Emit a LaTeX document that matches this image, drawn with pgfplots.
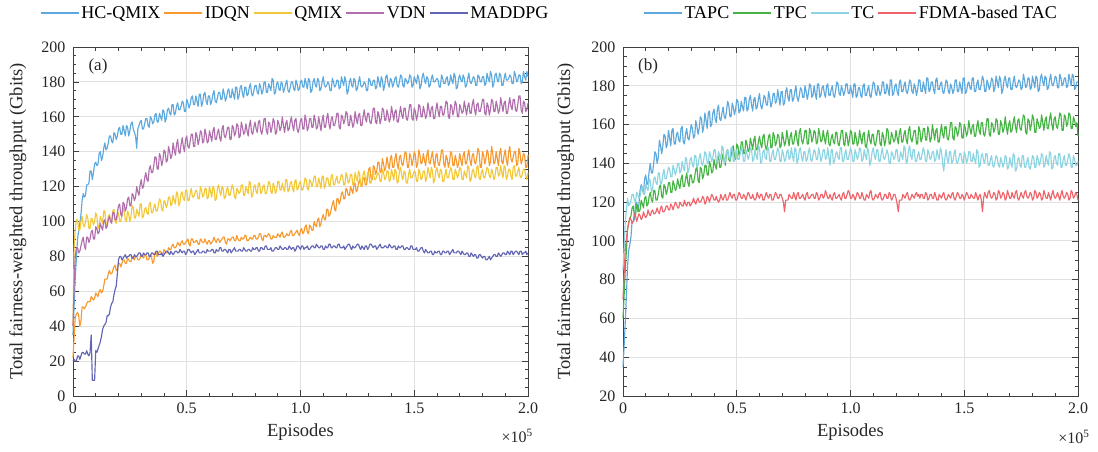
\documentclass[border=0pt]{standalone}
\usepackage{fontspec}
\setmainfont{Liberation Serif}
\usepackage{pgfplots}
\pgfplotsset{compat=1.18}
\usepackage{pgfplotstable}
\definecolor{cHC}{HTML}{5DA8DC}
\definecolor{cID}{HTML}{F7992F}
\definecolor{cQM}{HTML}{F2C838}
\definecolor{cVD}{HTML}{B06EAD}
\definecolor{cMA}{HTML}{6264B4}
\definecolor{cTP}{HTML}{45B445}
\definecolor{cTC}{HTML}{8CD4E2}
\definecolor{cFD}{HTML}{EE646A}

\pgfplotstableread{
x hc idqn qmix vdn mad
0.000 35 22 40 40 20
0.005 52 34 85 65 21
0.010 68 45 96 80 20
0.015 79 47 101 85 20
0.020 90 48 101 85 23
0.025 95 46 95 82 23
0.030 99 40 95 83 21
0.035 104 43 100 86 23
0.040 112 51 103 89 25
0.045 116 51 98 91 25
0.050 114 50 97 86 24
0.055 115 51 100 84 24
0.060 121 53 104 91 26
0.065 121 54 102 91 24
0.070 122 54 96 88 23
0.075 129 54 96 90 25
0.080 129 57 102 94 35
0.085 124 56 101 95 9
0.090 128 55 98 90 9
0.095 133 56 100 90 9
0.100 134 59 105 97 26
0.105 132 58 103 96 25
0.110 133 57 96 93 27
0.115 139 60 97 94 29
0.120 140 61 103 99 31
0.125 135 59 101 97 34
0.130 137 60 99 95 38
0.135 142 63 106 100 40
0.140 145 67 106 101 41
0.145 141 67 98 96 42
0.150 142 67 98 97 46
0.155 145 70 103 101 46
0.160 149 72 104 103 47
0.165 149 70 101 100 51
0.170 146 70 100 99 53
0.175 145 72 106 105 54
0.180 151 74 107 105 58
0.185 150 75 100 101 61
0.190 147 72 99 101 63
0.195 149 72 103 105 70
0.200 153 76 105 109 78
0.205 154 76 100 110 80
0.210 150 74 100 104 80
0.215 150 76 104 103 78
0.220 155 78 108 111 79
0.225 152 78 106 110 80
0.230 149 76 101 106 81
0.235 155 76 100 108 79
0.240 154 79 106 113 80
0.245 149 78 104 114 80
0.250 152 77 100 109 81
0.255 156 77 103 109 81
0.260 157 80 109 116 79
0.265 153 79 108 115 79
0.270 151 78 102 112 81
0.275 149 80 102 114 80
0.280 142 80 107 120 80
0.285 153 78 105 117 81
0.290 155 78 103 115 82
0.295 157 79 110 121 82
0.300 158 81 110 124 80
0.305 153 80 102 119 80
0.310 153 79 103 120 82
0.315 156 81 107 125 81
0.320 159 81 108 128 81
0.325 159 78 105 124 82
0.330 155 78 104 123 82
0.335 154 79 110 130 80
0.340 160 81 111 132 80
0.345 159 80 105 128 82
0.350 156 76 105 128 82
0.355 157 77 108 132 81
0.360 161 82 110 137 81
0.365 162 82 106 137 83
0.370 157 80 106 130 83
0.375 157 81 109 130 81
0.380 162 83 113 139 81
0.385 160 83 112 137 81
0.390 158 81 107 132 82
0.395 164 81 106 135 80
0.400 163 84 112 141 81
0.405 157 83 111 140 82
0.410 159 82 108 134 83
0.415 164 82 110 135 83
0.420 165 85 114 143 82
0.425 162 84 114 140 81
0.430 161 84 109 136 83
0.435 167 86 110 138 82
0.440 167 87 115 145 81
0.445 161 85 112 141 82
0.450 162 85 110 138 83
0.455 166 86 117 144 83
0.460 168 88 116 147 82
0.465 164 87 109 140 82
0.470 164 86 111 139 84
0.475 166 88 116 144 83
0.480 169 89 117 148 82
0.485 168 87 113 143 83
0.490 163 87 112 140 83
0.495 163 88 118 147 81
0.500 170 89 118 149 82
0.505 168 90 112 143 84
0.510 165 87 112 142 84
0.515 167 86 116 146 83
0.520 171 90 119 150 82
0.525 172 90 114 150 83
0.530 167 88 114 143 83
0.535 167 88 116 143 81
0.540 172 89 118 151 82
0.545 169 89 117 149 83
0.550 166 87 113 144 84
0.555 173 87 113 147 82
0.560 173 90 120 152 82
0.565 166 89 118 151 82
0.570 168 88 114 145 83
0.575 173 88 115 146 83
0.580 174 90 119 153 82
0.585 169 88 119 150 82
0.590 167 87 113 145 84
0.595 172 89 114 146 83
0.600 172 89 120 152 83
0.605 167 87 117 149 83
0.610 169 88 114 146 84
0.615 173 89 120 152 84
0.620 175 91 119 154 82
0.625 169 89 112 147 82
0.630 168 88 113 147 84
0.635 171 90 119 151 83
0.640 174 90 121 153 83
0.645 174 88 117 148 85
0.650 170 89 115 146 85
0.655 170 90 120 153 83
0.660 176 91 119 155 83
0.665 173 91 113 149 84
0.670 169 88 114 148 84
0.675 171 87 118 151 83
0.680 175 90 120 154 82
0.685 176 90 115 154 84
0.690 171 89 115 147 84
0.695 171 90 118 147 82
0.700 176 91 121 155 83
0.705 173 91 119 154 84
0.710 170 89 114 149 85
0.715 177 89 113 151 83
0.720 177 92 119 156 83
0.725 170 90 118 155 83
0.730 172 89 116 148 84
0.735 177 89 117 149 84
0.740 178 91 121 157 83
0.745 173 90 121 154 83
0.750 171 90 115 150 85
0.755 177 92 115 151 84
0.760 177 92 120 156 83
0.765 172 89 118 152 83
0.770 173 89 116 149 84
0.775 177 90 123 155 84
0.780 179 91 122 158 83
0.785 173 90 114 151 83
0.790 172 90 115 150 85
0.795 175 92 120 154 84
0.800 178 92 121 157 84
0.805 178 90 117 153 85
0.810 174 90 116 151 85
0.815 173 91 122 157 83
0.820 179 93 122 158 83
0.825 177 93 116 152 85
0.830 173 90 117 150 85
0.835 175 89 120 154 84
0.840 180 92 121 159 84
0.845 180 92 116 159 86
0.850 174 91 116 152 86
0.855 174 92 119 150 84
0.860 179 93 123 157 84
0.865 177 92 122 156 84
0.870 175 90 117 151 85
0.875 182 90 116 154 83
0.880 181 92 122 159 83
0.885 173 91 120 157 84
0.890 174 91 116 150 85
0.895 179 91 118 151 85
0.900 180 93 123 158 84
0.905 176 92 123 156 84
0.910 175 91 118 152 86
0.915 180 93 118 154 85
0.920 179 94 122 160 84
0.925 174 91 119 155 84
0.930 176 91 117 151 85
0.935 179 92 124 156 85
0.940 181 93 124 158 84
0.945 175 92 117 152 84
0.950 174 92 118 153 86
0.955 177 94 122 157 85
0.960 180 95 123 160 84
0.965 180 92 119 155 85
0.970 176 92 117 152 85
0.975 175 93 123 158 83
0.980 181 94 124 159 84
0.985 179 95 118 153 86
0.990 175 93 119 151 86
0.995 176 92 122 154 85
1.000 180 95 123 158 84
1.005 181 96 118 159 86
1.010 177 93 118 153 86
1.015 177 94 121 153 84
1.020 182 97 125 161 85
1.025 179 98 124 158 85
1.030 176 94 119 152 86
1.035 182 93 118 154 84
1.040 181 98 124 159 84
1.045 174 97 123 159 85
1.050 175 95 120 154 86
1.055 180 95 122 154 86
1.060 182 100 126 161 85
1.065 178 98 126 158 85
1.070 177 97 120 153 87
1.075 182 101 120 154 86
1.080 181 102 125 160 85
1.085 175 97 122 156 85
1.090 176 99 119 152 86
1.095 180 102 126 158 86
1.100 183 104 126 161 84
1.105 178 101 119 154 84
1.110 177 101 121 154 86
1.115 178 107 125 159 85
1.120 180 107 125 162 85
1.125 179 103 121 156 87
1.130 175 104 120 153 87
1.135 175 107 126 159 85
1.140 182 110 127 160 85
1.145 180 112 121 155 86
1.150 177 107 121 155 86
1.155 178 106 124 158 85
1.160 181 113 126 162 85
1.165 181 113 122 162 87
1.170 176 110 122 154 87
1.175 177 112 124 153 85
1.180 183 116 127 161 85
1.185 180 117 126 160 85
1.190 178 113 121 156 86
1.195 183 113 121 158 84
1.200 180 119 128 163 85
1.205 173 118 126 162 86
1.210 175 115 122 155 87
1.215 180 115 123 155 87
1.220 182 120 127 161 85
1.225 178 118 127 158 84
1.230 177 116 121 154 86
1.235 182 121 122 156 85
1.240 181 122 128 163 85
1.245 175 117 125 159 86
1.250 176 118 123 156 87
1.255 180 122 129 161 87
1.260 183 124 127 162 85
1.265 178 121 120 155 84
1.270 177 120 122 155 86
1.275 178 125 127 160 85
1.280 180 125 129 164 84
1.285 179 121 125 159 86
1.290 175 121 123 157 86
1.295 175 125 128 162 84
1.300 182 130 128 162 85
1.305 181 131 122 157 87
1.310 178 125 122 156 87
1.315 178 124 126 160 86
1.320 181 132 129 165 85
1.325 181 131 124 165 86
1.330 176 127 124 157 86
1.335 177 129 126 156 84
1.340 183 134 128 163 85
1.345 180 134 127 161 86
1.350 177 128 123 156 87
1.355 183 129 123 159 85
1.360 181 136 130 165 85
1.365 175 133 128 164 85
1.370 178 129 124 158 86
1.375 183 131 125 158 86
1.380 184 137 129 164 85
1.385 179 133 129 161 85
1.390 177 130 123 157 87
1.395 182 136 124 159 86
1.400 181 138 130 166 85
1.405 177 131 127 162 85
1.410 179 131 124 158 86
1.415 182 136 130 163 86
1.420 183 139 129 164 84
1.425 178 133 122 157 84
1.430 177 130 123 157 86
1.435 180 137 129 162 85
1.440 184 138 131 166 85
1.445 183 133 126 161 86
1.450 178 132 124 159 86
1.455 177 136 129 165 84
1.460 182 140 128 165 84
1.465 181 139 122 159 85
1.470 179 131 122 158 85
1.475 180 131 127 162 84
1.480 184 139 130 167 84
1.485 183 137 125 167 86
1.490 177 132 125 159 86
1.495 178 135 127 158 84
1.500 183 140 129 165 84
1.505 181 138 128 163 84
1.510 179 131 123 158 85
1.515 184 133 123 161 83
1.520 182 141 130 167 83
1.525 176 138 128 166 84
1.530 178 133 124 160 85
1.535 183 134 125 160 85
1.540 185 139 129 166 83
1.545 181 135 129 163 82
1.550 179 132 123 159 84
1.555 183 138 125 161 83
1.560 182 141 131 168 82
1.565 177 134 128 164 82
1.570 178 133 125 160 83
1.575 182 137 131 165 83
1.580 184 140 129 166 81
1.585 180 134 122 159 81
1.590 180 131 124 159 83
1.595 181 138 129 164 82
1.600 182 139 131 168 82
1.605 181 133 127 163 83
1.610 177 132 125 160 83
1.615 177 136 130 166 81
1.620 184 141 129 166 81
1.625 182 141 123 161 83
1.630 179 133 123 161 83
1.635 179 131 127 165 82
1.640 182 138 130 169 82
1.645 183 136 125 168 83
1.650 178 131 125 160 83
1.655 179 134 128 159 81
1.660 184 140 131 167 82
1.665 181 139 129 166 83
1.670 179 132 124 161 84
1.675 185 132 124 164 82
1.680 183 138 130 169 82
1.685 176 135 128 167 82
1.690 177 131 125 160 83
1.695 182 133 127 160 83
1.700 184 139 131 167 82
1.705 181 135 130 165 81
1.710 180 132 124 162 83
1.715 184 138 124 163 82
1.720 182 140 129 169 81
1.725 177 133 127 165 81
1.730 178 133 125 161 82
1.735 182 138 132 166 82
1.740 185 141 131 168 80
1.745 180 135 123 162 80
1.750 179 132 124 162 82
1.755 181 138 129 167 81
1.760 183 139 130 170 80
1.765 182 134 126 164 81
1.770 178 133 125 161 81
1.775 178 137 131 167 79
1.780 184 142 132 168 79
1.785 183 140 125 163 81
1.790 180 131 124 163 81
1.795 180 131 128 166 80
1.800 183 140 130 170 79
1.805 183 138 125 170 80
1.810 178 133 125 162 80
1.815 179 136 128 161 78
1.820 185 141 131 168 78
1.825 182 139 130 166 79
1.830 180 132 126 161 80
1.835 186 134 125 164 78
1.840 184 143 130 170 79
1.845 177 139 128 169 80
1.850 179 133 124 163 81
1.855 184 134 126 163 81
1.860 185 140 131 169 80
1.865 181 136 131 166 80
1.870 180 132 126 162 82
1.875 185 139 127 164 81
1.880 184 142 132 171 80
1.885 178 134 128 167 81
1.890 178 133 125 163 82
1.895 182 138 132 168 82
1.900 185 141 131 169 81
1.905 181 135 124 162 81
1.910 181 132 126 162 83
1.915 182 140 130 167 82
1.920 184 143 130 171 81
1.925 183 136 126 166 83
1.930 179 134 124 164 83
1.935 179 137 131 170 81
1.940 186 140 132 170 82
1.945 184 140 126 164 83
1.950 180 132 126 163 83
1.955 181 133 129 167 82
1.960 184 142 131 172 81
1.965 184 139 126 172 83
1.970 179 133 125 164 83
1.975 180 135 127 162 81
1.980 186 139 130 169 82
1.985 183 138 130 168 82
1.990 181 131 126 163 83
1.995 186 131 124 164 81
2.000 183 138 128 168 82
}\tabA

\pgfplotstableread{
x tapc tpc tc fdma
0.000 35 60 85 70
0.005 46 72 97 83
0.010 58 85 110 96
0.015 72 95 116 101
0.020 87 106 122 106
0.025 95 110 118 109
0.030 98 111 119 112
0.035 102 113 121 111
0.040 110 117 124 109
0.045 110 118 124 110
0.050 111 113 121 114
0.055 119 113 120 113
0.060 120 119 125 110
0.065 115 118 124 112
0.070 119 115 122 114
0.075 126 116 123 113
0.080 129 121 127 111
0.085 126 119 128 112
0.090 125 117 124 115
0.095 132 122 124 113
0.100 134 123 129 112
0.105 129 118 127 113
0.110 130 119 126 116
0.115 136 123 132 114
0.120 140 125 131 113
0.125 135 121 125 115
0.130 135 120 127 116
0.135 140 126 132 114
0.140 146 126 133 114
0.145 145 121 130 115
0.150 140 121 129 117
0.155 143 124 135 115
0.160 152 128 135 114
0.165 149 129 129 117
0.170 145 123 130 118
0.175 149 122 134 115
0.180 155 129 137 115
0.185 154 128 132 116
0.190 148 124 132 118
0.195 150 126 135 118
0.200 157 130 138 116
0.205 153 130 137 116
0.210 149 125 133 119
0.215 157 125 133 118
0.220 158 131 139 116
0.225 150 129 137 118
0.230 150 126 134 120
0.235 155 127 136 119
0.240 156 132 140 117
0.245 152 129 140 117
0.250 151 127 135 120
0.255 158 132 136 119
0.260 159 134 141 118
0.265 151 128 138 118
0.270 150 128 136 121
0.275 155 132 143 119
0.280 158 135 142 118
0.285 153 130 135 120
0.290 152 128 137 120
0.295 156 134 142 118
0.300 160 134 143 119
0.305 158 130 139 120
0.310 153 130 138 122
0.315 154 133 144 120
0.320 162 137 144 119
0.325 159 138 138 121
0.330 155 131 139 122
0.335 158 130 143 120
0.340 164 138 145 120
0.345 163 137 140 121
0.350 156 132 139 123
0.355 159 134 142 122
0.360 166 139 146 119
0.365 162 139 145 120
0.370 158 134 140 123
0.375 166 134 140 122
0.380 167 141 146 120
0.385 159 139 144 122
0.390 160 135 141 124
0.395 166 136 143 123
0.400 168 142 147 121
0.405 163 139 147 121
0.410 161 137 141 123
0.415 168 142 141 121
0.420 170 144 146 120
0.425 163 138 144 121
0.430 162 138 142 124
0.435 166 142 149 122
0.440 169 145 148 121
0.445 164 141 140 123
0.450 163 139 141 124
0.455 167 146 146 121
0.460 172 147 147 121
0.465 170 142 143 123
0.470 164 141 142 125
0.475 164 144 148 123
0.480 171 148 148 122
0.485 169 149 141 124
0.490 165 143 141 124
0.495 168 142 145 121
0.500 173 150 147 121
0.505 172 149 142 123
0.510 166 144 142 125
0.515 167 146 145 124
0.520 172 151 148 122
0.525 169 151 146 122
0.530 167 145 141 124
0.535 174 145 141 123
0.540 174 152 147 121
0.545 167 150 145 123
0.550 168 146 142 125
0.555 173 147 144 124
0.560 175 153 148 122
0.565 170 150 147 122
0.570 167 147 141 124
0.575 173 152 142 122
0.580 174 154 147 121
0.585 168 147 144 122
0.590 169 147 142 125
0.595 173 151 149 123
0.600 176 154 148 122
0.605 170 150 140 124
0.610 168 148 141 124
0.615 171 154 146 121
0.620 175 155 147 121
0.625 174 149 143 123
0.630 170 147 142 125
0.635 170 150 148 123
0.640 177 154 148 122
0.645 174 155 141 124
0.650 169 148 141 124
0.655 171 148 145 121
0.660 176 156 147 121
0.665 176 154 142 123
0.670 171 149 142 125
0.675 172 151 145 124
0.680 178 155 148 122
0.685 174 154 146 122
0.690 170 148 141 124
0.695 177 149 141 124
0.700 177 156 147 122
0.705 170 153 145 120
0.710 171 149 141 115
0.715 177 151 142 121
0.720 179 157 146 121
0.725 174 153 147 121
0.730 172 149 142 124
0.735 178 154 143 123
0.740 178 156 148 122
0.745 172 150 144 122
0.750 173 150 141 125
0.755 177 154 148 123
0.760 180 157 147 121
0.765 174 152 140 124
0.770 172 149 142 125
0.775 175 156 147 122
0.780 179 158 148 122
0.785 178 152 143 123
0.790 174 150 141 124
0.795 174 153 146 122
0.800 180 157 146 121
0.805 177 157 141 124
0.810 173 150 142 125
0.815 176 150 146 122
0.820 181 158 148 122
0.825 180 156 142 123
0.830 174 151 141 124
0.835 175 153 144 124
0.840 180 157 147 122
0.845 176 156 146 122
0.850 173 150 142 125
0.855 181 151 142 124
0.860 181 158 148 121
0.865 174 155 145 122
0.870 175 151 141 124
0.875 179 152 143 124
0.880 180 157 147 122
0.885 176 153 147 123
0.890 174 150 142 126
0.895 180 155 143 124
0.900 181 157 148 122
0.905 175 150 143 122
0.910 175 149 139 124
0.915 178 153 147 122
0.920 180 155 147 121
0.925 175 151 140 124
0.930 174 150 141 125
0.935 178 156 145 122
0.940 182 156 146 122
0.945 181 150 143 123
0.950 176 149 142 124
0.955 175 153 148 122
0.960 180 157 148 121
0.965 178 157 141 124
0.970 175 150 141 125
0.975 177 149 145 122
0.980 181 156 147 122
0.985 181 154 142 124
0.990 176 149 142 126
0.995 176 152 145 125
1.000 180 157 148 122
1.005 177 156 146 122
1.010 174 150 141 124
1.015 181 150 141 123
1.020 181 156 147 121
1.025 174 153 145 123
1.030 175 149 142 125
1.035 179 151 144 124
1.040 179 157 148 122
1.045 175 153 147 122
1.050 174 150 141 125
1.055 180 155 142 123
1.060 181 156 147 121
1.065 175 149 144 121
1.070 175 148 142 124
1.075 178 153 148 123
1.080 180 157 146 122
1.085 175 152 139 125
1.090 174 150 141 126
1.095 178 155 146 122
1.100 182 155 148 121
1.105 181 150 144 122
1.110 176 149 142 124
1.115 175 153 147 123
1.120 180 157 147 122
1.125 178 157 141 124
1.130 175 150 141 125
1.135 177 149 145 122
1.140 182 156 148 121
1.145 182 154 143 122
1.150 176 149 142 124
1.155 176 152 144 124
1.160 181 158 147 122
1.165 178 157 145 122
1.170 175 150 140 125
1.175 183 150 140 124
1.180 183 156 146 121
1.185 175 154 145 122
1.190 176 151 142 124
1.195 180 152 143 124
1.200 181 157 147 122
1.205 177 153 147 119
1.210 175 150 141 115
1.215 182 156 141 121
1.220 183 158 146 121
1.225 177 151 144 121
1.230 177 151 142 124
1.235 180 155 149 123
1.240 182 157 148 122
1.245 177 152 140 124
1.250 176 150 141 125
1.255 179 157 147 122
1.260 183 159 149 121
1.265 182 153 144 122
1.270 177 151 142 124
1.275 176 154 147 123
1.280 181 157 147 122
1.285 179 157 141 124
1.290 175 150 141 125
1.295 178 150 144 123
1.300 183 159 146 124
1.305 183 157 142 122
1.310 177 151 142 124
1.315 177 153 145 124
1.320 182 158 148 122
1.325 179 158 146 122
1.330 176 152 141 125
1.335 184 152 141 124
1.340 184 159 147 121
1.345 177 156 145 122
1.350 178 151 142 124
1.355 182 153 143 124
1.360 182 160 146 122
1.365 178 156 146 122
1.370 176 152 141 125
1.375 183 157 142 123
1.380 184 158 147 121
1.385 178 151 144 121
1.390 178 151 142 124
1.395 181 156 148 123
1.400 182 160 146 122
1.405 177 155 140 124
1.410 176 153 136 125
1.415 179 159 143 122
1.420 183 159 147 121
1.425 182 153 142 122
1.430 177 152 140 124
1.435 176 156 146 123
1.440 181 161 146 122
1.445 179 161 140 124
1.450 176 153 141 125
1.455 178 152 145 122
1.460 183 159 147 121
1.465 183 158 141 123
1.470 177 154 140 125
1.475 177 156 142 124
1.480 182 161 145 122
1.485 179 160 145 122
1.490 176 153 141 124
1.495 184 153 140 123
1.500 184 160 146 121
1.505 176 158 144 123
1.510 177 154 140 125
1.515 181 156 142 124
1.520 182 162 146 122
1.525 179 158 146 122
1.530 178 155 141 124
1.535 184 159 141 123
1.540 184 160 145 122
1.545 177 154 142 122
1.550 177 154 140 125
1.555 181 159 147 123
1.560 183 162 146 121
1.565 178 157 138 123
1.570 178 155 139 124
1.575 181 161 144 121
1.580 185 161 145 115
1.585 183 155 141 122
1.590 177 154 140 125
1.595 177 158 145 123
1.600 183 163 145 122
1.605 181 163 139 125
1.610 178 155 139 126
1.615 180 154 142 123
1.620 184 161 144 122
1.625 183 160 139 123
1.630 177 156 138 125
1.635 179 158 141 124
1.640 185 163 144 121
1.645 182 162 143 122
1.650 179 155 139 126
1.655 185 155 138 125
1.660 183 162 143 122
1.665 176 160 141 123
1.670 178 156 138 125
1.675 183 158 140 124
1.680 185 164 144 121
1.685 181 159 143 122
1.690 179 155 137 126
1.695 184 160 138 124
1.700 184 162 143 122
1.705 178 156 140 122
1.710 178 157 138 125
1.715 182 161 145 123
1.720 185 164 144 122
1.725 180 159 136 125
1.730 179 156 137 126
1.735 181 162 142 122
1.740 183 163 143 121
1.745 182 158 139 123
1.750 178 157 138 125
1.755 179 161 144 123
1.760 186 165 144 122
1.765 183 164 138 125
1.770 179 156 138 126
1.775 180 155 141 123
1.780 184 163 143 122
1.785 184 162 138 123
1.790 178 157 137 125
1.795 179 160 140 124
1.800 185 165 144 121
1.805 182 163 143 122
1.810 179 156 138 126
1.815 185 156 138 125
1.820 184 163 144 122
1.825 177 161 142 123
1.830 178 158 139 125
1.835 184 159 141 124
1.840 186 165 145 121
1.845 182 161 144 122
1.850 180 157 138 126
1.855 185 162 139 124
1.860 184 164 144 122
1.865 178 158 141 122
1.870 179 158 139 125
1.875 183 163 146 123
1.880 186 166 145 121
1.885 181 160 137 124
1.890 180 157 138 126
1.895 182 163 143 123
1.900 185 164 144 122
1.905 184 159 140 123
1.910 179 158 139 125
1.915 179 162 145 123
1.920 186 166 145 121
1.925 184 165 138 124
1.930 180 157 138 126
1.935 181 157 142 123
1.940 184 165 144 122
1.945 184 164 139 123
1.950 179 159 139 125
1.955 180 161 142 124
1.960 186 166 145 121
1.965 183 165 143 122
1.970 180 158 138 126
1.975 186 158 138 125
1.980 185 164 144 122
1.985 178 162 142 123
1.990 179 159 139 125
1.995 182 161 139 124
2.000 182 154 141 121
}\tabB

\pgfplotsset{
  myax/.style={
    scale only axis, width=455pt, height=349pt,
    clip=false,
    xmin=0, xmax=2,
    xtick={0,0.5,1,1.5,2}, xticklabels={0,0.5,1.0,1.5,2.0},
    minor x tick num=4, minor y tick num=3,
    tick align=inside,
    major tick length=6pt, minor tick length=3.5pt,
    grid=major,
    major grid style={draw=black!12, line width=0.9pt},
    axis line style={draw=black!75, line width=0.9pt},
    tick style={draw=black!75, line width=0.7pt},
    tick label style={font=\fontsize{16}{18}\selectfont, text=black!85},
    xticklabel style={yshift=-3pt},
    yticklabel style={xshift=-4pt},
    label style={font=\fontsize{18.5}{21}\selectfont, text=black!85},
    xlabel={Episodes},
    ylabel={Total fairness-weighted throughput (Gbits)},
    xlabel style={at={(axis description cs:0.5,-0.103)}, anchor=center},
    /pgf/number format/assume math mode=true,
    legend style={draw=none, fill=none, font=\fontsize{18}{21}\selectfont,
      legend columns=-1, nodes={inner xsep=1.5pt},
      /tikz/every even column/.append style={column sep=1pt}},
    legend image code/.code={\draw[#1, line width=2.5pt] (0pt,0pt) -- (38pt,0pt);},
    every axis plot/.append style={line width=1.15pt, line join=round},
  }
}

\begin{document}
\begin{tikzpicture}
\useasboundingbox (-73pt,-55pt) rectangle (1025pt,396pt);
\begin{axis}[myax, at={(0pt,0pt)}, anchor=south west,
  ymin=0, ymax=200, ytick={0,20,...,200},
  ylabel style={at={(axis description cs:-0.121,0.5)}, anchor=center},
  legend style={at={(0.487,1.097)}, anchor=center}]
\addplot[cHC] table[x=x, y=hc] {\tabA};
\addlegendentry{HC-QMIX}
\addplot[cID] table[x=x, y=idqn] {\tabA};
\addlegendentry{IDQN}
\addplot[cQM] table[x=x, y=qmix] {\tabA};
\addlegendentry{QMIX}
\addplot[cVD] table[x=x, y=vdn] {\tabA};
\addlegendentry{VDN}
\addplot[cMA] table[x=x, y=mad] {\tabA};
\addlegendentry{MADDPG}
\node[font=\fontsize{17}{20}\selectfont, text=black!85] at (rel axis cs:0.055,0.943) {(a)};
\node[font=\fontsize{16}{18}\selectfont, text=black!85] at (rel axis cs:0.976,-0.115) {×10\textsuperscript{5}};
\end{axis}
\begin{axis}[myax, at={(550pt,0pt)}, anchor=south west,
  ymin=20, ymax=200, ytick={20,40,...,200},
  ylabel style={at={(axis description cs:-0.126,0.5)}, anchor=center},
  legend style={at={(0.5,1.097)}, anchor=center}]
\addplot[cHC] table[x=x, y=tapc] {\tabB};
\addlegendentry{TAPC}
\addplot[cTP] table[x=x, y=tpc] {\tabB};
\addlegendentry{TPC}
\addplot[cTC] table[x=x, y=tc] {\tabB};
\addlegendentry{TC}
\addplot[cFD] table[x=x, y=fdma] {\tabB};
\addlegendentry{FDMA-based TAC}
\node[font=\fontsize{17}{20}\selectfont, text=black!85] at (rel axis cs:0.055,0.943) {(b)};
\node[font=\fontsize{16}{18}\selectfont, text=black!85] at (rel axis cs:0.991,-0.117) {×10\textsuperscript{5}};
\end{axis}
\end{tikzpicture}
\end{document}
